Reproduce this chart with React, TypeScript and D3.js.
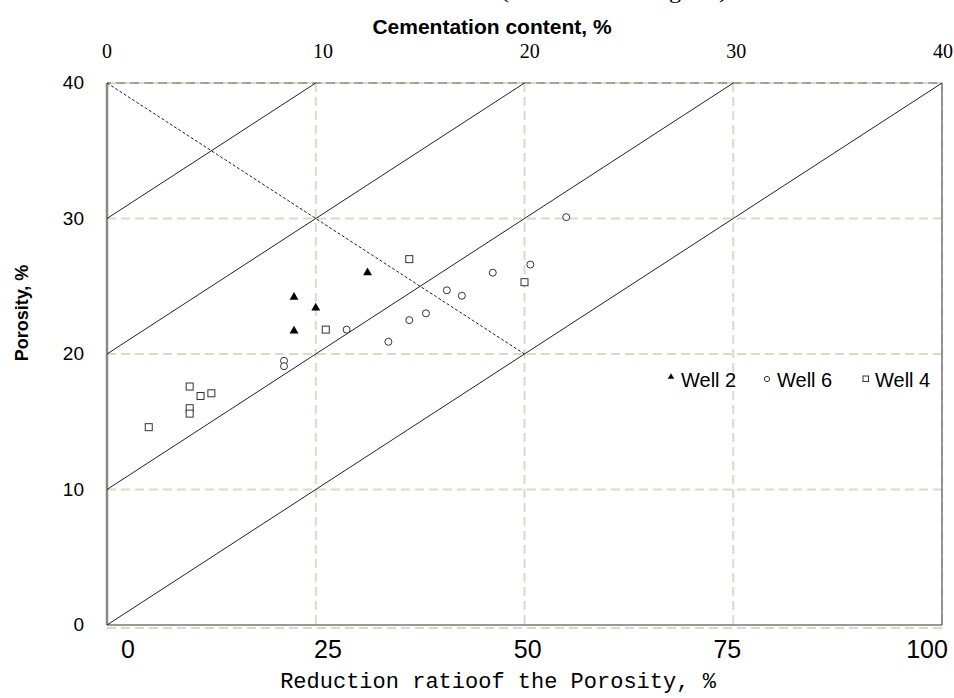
import React from 'react';
import * as d3 from 'd3';

// reduction ratio (%) / porosity (%)
const well2X = [22.4, 25.0, 22.4, 31.2];
const well2Y = [24.2, 23.4, 21.7, 26.0];

const well6X = [21.2, 21.2, 28.7, 33.7, 36.2, 38.2, 40.7, 42.5, 46.2, 50.7, 55.0];
const well6Y = [19.5, 19.1, 21.8, 20.9, 22.5, 23.0, 24.7, 24.3, 26.0, 26.6, 30.1];

const well4X = [9.9, 11.2, 12.5, 9.9, 9.9, 5.0, 26.2, 36.2, 50.0];
const well4Y = [17.6, 16.9, 17.1, 16.0, 15.6, 14.6, 21.8, 27.0, 25.3];

const bottomTicks = [0, 25, 50, 75, 100];
const topTicks = [0, 10, 20, 30, 40];
const leftTicks = [0, 10, 20, 30, 40];

// parallel lines porosity = 0.4 * ratio + c
const lineOffsets = [0, 10, 20, 30];
const dottedX = [0, 50];
const dottedY = [40, 20];

const legendNames = ['Well 2', 'Well 6', 'Well 4'];

const W = 954;
const H = 698;

const App = () => {
  const x = d3.scaleLinear().domain([0, 100]).range([107, 942]);
  const y = d3.scaleLinear().domain([0, 40]).range([625, 83]);
  // labels sit a bit off their ticks in the original
  const bottomLabelX = d3.scaleLinear().domain([0, 25, 100]).range([128, 328, 927]);
  const topLabelX = d3.scaleLinear().domain([0, 10, 40]).range([107, 323, 943]);

  const tri = d3.symbol().type(d3.symbolTriangle).size(34)();
  const triSmall = d3.symbol().type(d3.symbolTriangle).size(18)();

  const line = d3.line<[number, number]>().x(d => x(d[0])).y(d => y(d[1]));

  const refLines = lineOffsets.map(c => {
    const xEnd = Math.min(100, (40 - c) / 0.4);
    return line([[0, c], [xEnd, c + 0.4 * xEnd]]);
  });
  const dotted = line(dottedX.map((v, i) => [v, dottedY[i]] as [number, number]));

  const grid = '#ddd9c3';

  return (
    <svg width={W} height={H} style={{ position: 'absolute', left: 0, top: 0, background: '#fff' }}>
      {/* heading cut off at the top edge, only descenders show */}
      <text x={501} y={-2} fontFamily="Liberation Serif, Times New Roman, serif" fontSize={20}
        textLength={226} lengthAdjust="spacingAndGlyphs">(Cementation diagram)</text>
      <text x={492} y={34} textAnchor="middle" fontFamily="Liberation Sans, Arial, sans-serif"
        fontWeight="bold" fontSize={21}>Cementation content, %</text>

      {topTicks.map(t => (
        <text key={'tt' + t} x={topLabelX(t)} y={58} textAnchor="middle"
          fontFamily="Liberation Serif, Times New Roman, serif" fontSize={20}>{t}</text>
      ))}

      {/* grid */}
      {leftTicks.map(t => (
        <line key={'gh' + t} x1={x(0)} x2={x(100)} y1={t === 0 ? y(t) + 3 : y(t)} y2={t === 0 ? y(t) + 3 : y(t)}
          stroke={grid} strokeWidth={2} strokeDasharray="9,5" />
      ))}
      {bottomTicks.filter(t => t > 0).map(t => (
        <line key={'gv' + t} x1={x(t)} x2={x(t)} y1={y(40)} y2={y(0)}
          stroke={grid} strokeWidth={2} strokeDasharray="9,5" />
      ))}

      {/* frame */}
      <line x1={x(0)} x2={x(100)} y1={y(40)} y2={y(40)} stroke="#8a8a80" strokeWidth={1.5} strokeDasharray="9,5" strokeDashoffset={5} />
      <line x1={x(100)} x2={x(100)} y1={y(40)} y2={y(0)} stroke="#777" strokeWidth={1.5} />
      <line x1={x(0)} x2={x(100)} y1={y(0)} y2={y(0)} stroke="#333" strokeWidth={1.2} />
      <line x1={x(0)} x2={x(0)} y1={y(40)} y2={y(0)} stroke="#888" strokeWidth={2.5} />

      {/* reference lines */}
      {refLines.map((d, i) => (
        <path key={'rl' + i} d={d || ''} fill="none" stroke="#222" strokeWidth={1} />
      ))}
      <path d={dotted || ''} fill="none" stroke="#222" strokeWidth={1} strokeDasharray="3,2" />

      {/* points */}
      {well4X.map((v, i) => (
        <rect key={'w4' + i} x={x(v) - 3.5} y={y(well4Y[i]) - 3.5} width={7} height={7}
          fill="#fff" stroke="#333" strokeWidth={1} />
      ))}
      {well6X.map((v, i) => (
        <circle key={'w6' + i} cx={x(v)} cy={y(well6Y[i])} r={3.5} fill="#fff" stroke="#333" strokeWidth={1} />
      ))}
      {well2X.map((v, i) => (
        <path key={'w2' + i} d={tri || ''} transform={`translate(${x(v)},${y(well2Y[i])})`} fill="#000" />
      ))}

      {/* left axis */}
      {leftTicks.map(t => (
        <text key={'lt' + t} x={84} y={y(t) + 6} textAnchor="end"
          fontFamily="Liberation Sans, Arial, sans-serif" fontSize={19}>{t}</text>
      ))}
      <text transform={`translate(28,${313}) rotate(-90)`} textAnchor="middle"
        fontFamily="Liberation Sans, Arial, sans-serif" fontWeight="bold" fontSize={18}>Porosity, %</text>

      {/* bottom axis */}
      {bottomTicks.map(t => (
        <text key={'bt' + t} x={bottomLabelX(t)} y={658} textAnchor="middle"
          fontFamily="Liberation Sans, Arial, sans-serif" fontSize={25}>{t}</text>
      ))}
      <text x={498} y={688} textAnchor="middle" fontFamily="Liberation Mono, DejaVu Sans Mono, monospace"
        fontSize={22}>Reduction ratioof the Porosity, %</text>

      {/* legend */}
      <g fontFamily="Liberation Sans, Arial, sans-serif" fontSize={20}>
        <path d={triSmall || ''} transform="translate(671,377)" fill="#000" />
        <text x={681} y={387}>{legendNames[0]}</text>
        <circle cx={767} cy={379} r={2.6} fill="#fff" stroke="#333" strokeWidth={1} />
        <text x={777} y={387}>{legendNames[1]}</text>
        <rect x={863} y={376} width={5.5} height={5.5} fill="#fff" stroke="#333" strokeWidth={1} />
        <text x={875} y={387}>{legendNames[2]}</text>
      </g>
    </svg>
  );
};

export default App;
